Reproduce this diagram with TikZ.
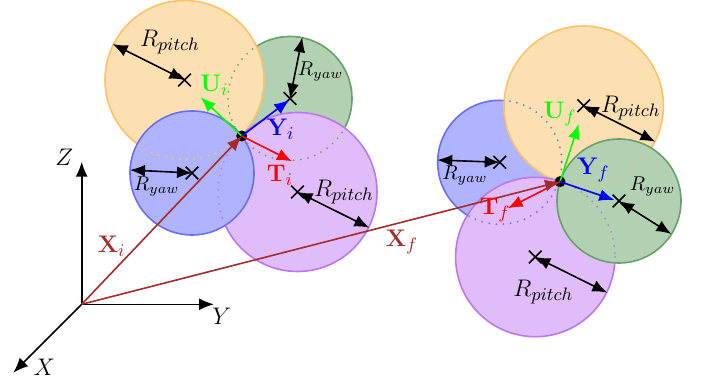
\documentclass[tikz,border=0pt]{standalone}
\usepackage{amsmath,amssymb}
\usepackage{xcolor}
\usetikzlibrary{arrows.meta,shapes.misc}
\definecolor{PitchOrange}{RGB}{253,224,178}
\definecolor{PitchOrangeLine}{RGB}{250,195,105}
\definecolor{YawGreen}{RGB}{178,208,178}
\definecolor{YawGreenLine}{RGB}{105,160,105}
\definecolor{YawBlue}{RGB}{176,180,255}
\definecolor{YawBlueLine}{RGB}{105,110,245}
\definecolor{PitchPurple}{RGB}{224,188,250}
\definecolor{PitchPurpleLine}{RGB}{185,120,235}
\definecolor{PosBrown}{RGB}{165,42,42}
\begin{document}
\begin{tikzpicture}[
    x=0.5pt,y=-0.5pt,
    orangec/.style={draw=PitchOrangeLine,fill=PitchOrange,thick},
    greenc/.style={draw=YawGreenLine,fill=YawGreen,thick},
    bluec/.style={draw=YawBlueLine,fill=YawBlue,thick},
    purplec/.style={draw=PitchPurpleLine,fill=PitchPurple,thick},
    hidden/.style={dash pattern=on 0pt off 3.6pt,line width=1pt,line cap=round},
    crossm/.style={cross out,draw=black,thick,minimum size=5.5pt,inner sep=0pt},
    arr/.style={-{Latex[length=7.5pt,width=6pt]},thick},
    rad/.style={{Latex[length=7.5pt,width=6pt]}-{Latex[length=7.5pt,width=6pt]},thick,black},
    axis/.style={arr,black},
    vec/.style={font=\fontsize{13}{15}\selectfont}
  ]
    \useasboundingbox (0,0) rectangle (701,379);
    % centres and joints
    \coordinate (O) at (81.7,304.3);
    \coordinate (Ji) at (241.7,136);
    \coordinate (Jf) at (560,181.7);
    \coordinate (oi) at (184.5,80);
    \coordinate (gi) at (290,98.5);
    \coordinate (bi) at (192,173);
    \coordinate (pi) at (297.5,192);
    \coordinate (of) at (583.7,105.7);
    \coordinate (gf) at (619,201);
    \coordinate (bf) at (499.7,162.3);
    \coordinate (pf) at (535.3,257);
    % discs, initial pose
    \draw[greenc] (gi) circle (62);
    \draw[orangec] (oi) circle (79.5);
    \draw[purplec] (pi) circle (79.5);
    \draw[bluec] (bi) circle (62);
    % discs, final pose
    \draw[bluec] (bf) circle (62);
    \draw[orangec] (of) circle (79.7);
    \draw[purplec] (pf) circle (79.7);
    \draw[greenc] (gf) circle (62);
    % hidden parts of the discs
    \foreach \ca/\ra/\cb/\rb/\col in {
        oi/79.5/gi/62/YawGreenLine, pi/79.5/gi/62/YawGreenLine,
        bi/62/oi/79.5/PitchOrangeLine, bi/62/pi/79.5/PitchPurpleLine,
        of/79.7/bf/62/YawBlueLine, pf/79.7/bf/62/YawBlueLine,
        gf/62/of/79.7/PitchOrangeLine, gf/62/pf/79.7/PitchPurpleLine}{
      \begin{scope}
        \clip (\ca) circle (\ra);
        \draw[hidden,\col] (\cb) circle (\rb);
      \end{scope}
    }
    \fill[black] (Ji) circle (5.5);
    \fill[black] (Jf) circle (5.5);
    % radius markers
    \node[crossm] (Xoi) at (oi) {};
    \node[crossm] (Xgi) at (gi) {};
    \node[crossm] (Xbi) at (bi) {};
    \node[crossm] (Xpi) at (pi) {};
    \node[crossm] (Xof) at (of) {};
    \node[crossm] (Xgf) at (gf) {};
    \node[crossm] (Xbf) at (bf) {};
    \node[crossm] (Xpf) at (pf) {};
    \coordinate (Roi) at (112.7,44);
    \coordinate (Rgi) at (302.3,37.3);
    \coordinate (Rbi) at (130,170);
    \coordinate (Rpi) at (369.3,227.7);
    \coordinate (Rof) at (655.3,141.7);
    \coordinate (Rgf) at (671.3,234);
    \coordinate (Rbf) at (437.3,160);
    \coordinate (Rpf) at (607.3,292.7);
    \draw[rad] (Roi)--(Xoi.center);
    \draw[rad] (Rgi)--(Xgi.center);
    \draw[rad] (Rbi)--(Xbi.center);
    \draw[rad] (Rpi)--(Xpi.center);
    \draw[rad] (Rof)--(Xof.center);
    \draw[rad] (Rgf)--(Xgf.center);
    \draw[rad] (Rbf)--(Xbf.center);
    \draw[rad] (Rpf)--(Xpf.center);
    % world axes
    \coordinate (Zt) at (81.7,161.7);
    \coordinate (Yt) at (214,304.3);
    \coordinate (Xt) at (13.3,372.7);
    \draw[axis] (O)--(Zt);
    \draw[axis] (O)--(Yt);
    \draw[axis] (O)--(Xt);
    \node[vec] (Zl) at (64.3,157.3) {$Z$};
    \node[vec] (Yl) at (221.7,316.7) {$Y$};
    \node[vec] (Xl) at (44.3,367) {$X$};
    % body frames
    \coordinate (Ui) at (200.7,97.3);
    \coordinate (Yi) at (289.3,100);
    \coordinate (Ti) at (292,161.3);
    \coordinate (Uf) at (578.7,124);
    \coordinate (Yf) at (614.3,200);
    \coordinate (Tf) at (507.7,208.3);
    \draw[arr,green] (Ji)--(Ui);
    \draw[arr,blue] (Ji)--(Yi);
    \draw[arr,red] (Ji)--(Ti);
    \draw[arr,green] (Jf)--(Uf);
    \draw[arr,blue] (Jf)--(Yf);
    \draw[arr,red] (Jf)--(Tf);
    \draw[arr,PosBrown] (O)--(Ji);
    \draw[arr,PosBrown] (O)--(Jf);
    % labels
    \node[vec,text=PosBrown] (Xil) at (111.7,246) {$\mathbf{X}_i$};
    \node[vec,text=PosBrown] (Xfl) at (402,242) {$\mathbf{X}_f$};
    \node[vec,text=green] (Uil) at (214.3,85) {$\mathbf{U}_i$};
    \node[vec,text=blue] (Yil) at (280.7,129.3) {$\mathbf{Y}_i$};
    \node[vec,text=red] (Til) at (280,175) {$\mathbf{T}_i$};
    \node[vec,text=green] (Ufl) at (560,114) {$\mathbf{U}_f$};
    \node[vec,text=blue] (Yfl) at (593.3,170) {$\mathbf{Y}_f$};
    \node[vec,text=red] (Tfl) at (495,210) {$\mathbf{T}_f$};
    \node[vec] (Lpi1) at (170,41.7) {$R_{pitch}$};
    \node[vec] (Lpi2) at (344,191.7) {$R_{pitch}$};
    \node[vec] (Lpf1) at (630.7,108.3) {$R_{pitch}$};
    \node[vec] (Lpf2) at (543.3,291.7) {$R_{pitch}$};
    \node (Lyi1) at (320.7,71.7) {$R_{yaw}$};
    \node (Lyi2) at (156.7,186.7) {$R_{yaw}$};
    \node (Lyf1) at (652.7,186.7) {$R_{yaw}$};
    \node (Lyf2) at (465,175.7) {$R_{yaw}$};
  \end{tikzpicture}
\end{document}
